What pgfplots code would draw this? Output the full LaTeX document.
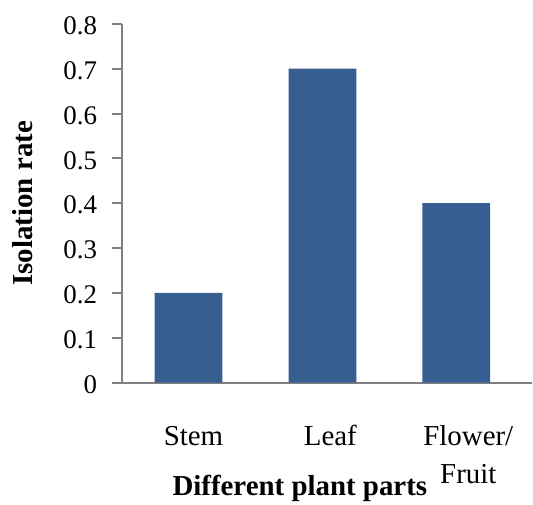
\documentclass[border=0pt]{standalone}
\usepackage{pgfplots}
\pgfplotsset{compat=1.18}
\usepackage{fontspec}
\setmainfont{Liberation Serif}
\definecolor{barblue}{RGB}{55,94,145}
\definecolor{axgray}{RGB}{128,128,128}
\begin{document}
\begin{tikzpicture}
\begin{axis}[
  scale only axis,
  width=412pt, height=360pt,
  xmin=-0.5, xmax=2.565,
  ymin=0, ymax=0.8,
  ytick={0,0.1,...,0.8},
  yticklabels={0,0.1,0.2,0.3,0.4,0.5,0.6,0.7,0.8},
  xtick={0,1,2},
  xticklabels={Stem,\hspace{6pt}Leaf,{\begin{tabular}[t]{@{\hspace{14pt}}c@{}}Flower/\\Fruit\end{tabular}}},
  x tick label style={anchor=base, yshift=-53pt, xshift=5pt, font=\fontsize{29}{38}\selectfont},
  y tick label style={font=\fontsize{27}{30}\selectfont, xshift=-11pt, yshift=-2pt},
  /pgf/number format/assume math mode=true,
  axis x line*=bottom, axis y line*=left,
  axis line style={axgray, line width=2pt},
  x axis line style={-},
  y axis line style={-},
  major tick length=10pt,
  tick style={axgray, line width=2pt},
  xtick style={draw=none},
  tick align=outside,
  ybar, bar width=68pt,
  xlabel={\textbf{Different plant parts}},
  ylabel={\textbf{Isolation rate}},
  label style={font=\fontsize{29}{32}\selectfont},
  xlabel style={at={(axis description cs:0.5,0)}, anchor=base, yshift=-113pt, xshift=-27pt},
  ylabel style={at={(axis description cs:-0.24,0.5)}, anchor=center},
  clip=false,
]
\addplot[fill=barblue, draw=none] coordinates {(0,0.2) (1,0.7) (2,0.4)};
\path (axis description cs:-0.296,1) ++(0,24pt);
\end{axis}
\end{tikzpicture}
\end{document}
